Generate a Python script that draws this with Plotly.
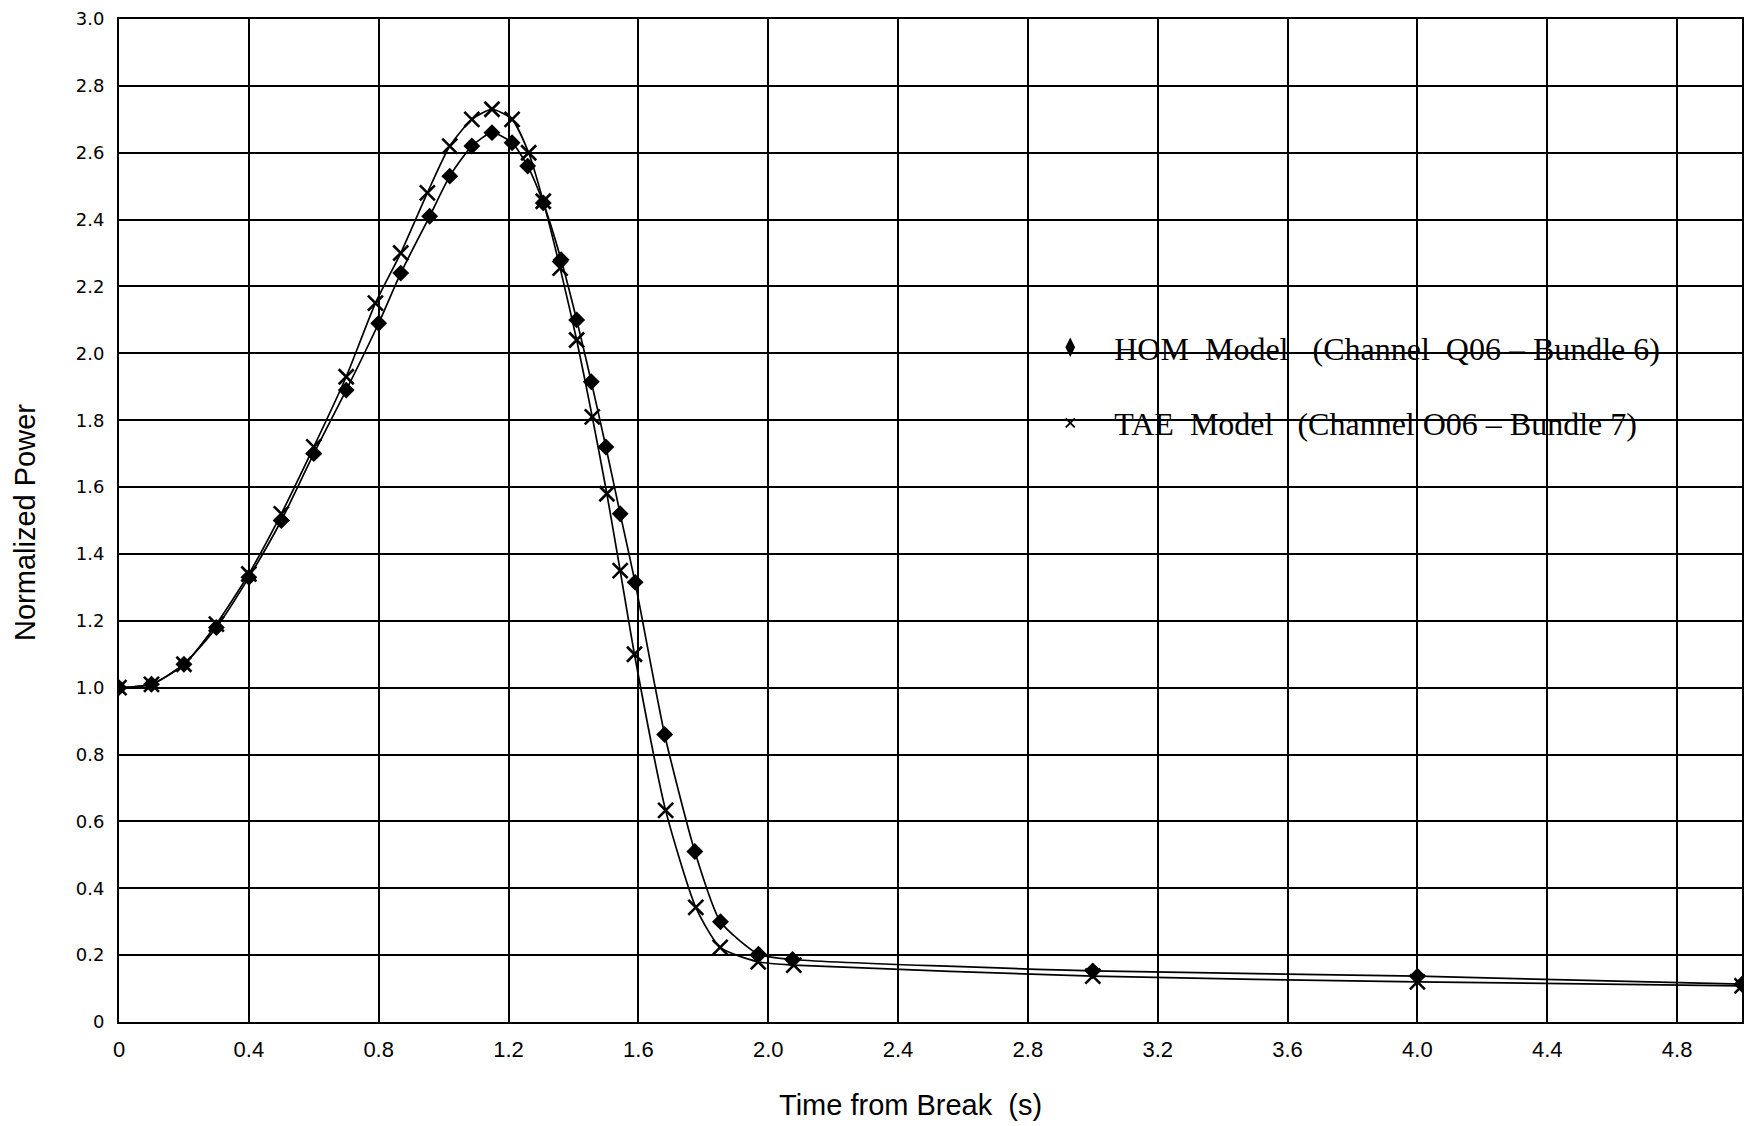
import plotly.graph_objects as go

# HOM Model (Channel Q06 - Bundle 6)
hom_t = [0.0, 0.1, 0.2, 0.3, 0.4, 0.5, 0.6, 0.7, 0.8, 0.868, 0.957, 1.019, 1.087, 1.149,
         1.211, 1.259, 1.307, 1.362, 1.41, 1.455, 1.50, 1.544, 1.59, 1.681, 1.774, 1.853,
         1.97, 2.075, 3.0, 4.0, 5.0]
hom_p = [1.00, 1.01, 1.07, 1.18, 1.33, 1.50, 1.70, 1.89, 2.09, 2.24, 2.41, 2.53, 2.62, 2.66,
         2.63, 2.56, 2.45, 2.28, 2.10, 1.915, 1.72, 1.52, 1.315, 0.86, 0.51, 0.30,
         0.203, 0.187, 0.153, 0.137, 0.113]

# TAE Model (Channel O06 - Bundle 7)
tae_t = [0.0, 0.1, 0.2, 0.3, 0.4, 0.5, 0.6, 0.7, 0.79, 0.868, 0.95, 1.019, 1.087, 1.149,
         1.211, 1.262, 1.307, 1.359, 1.41, 1.458, 1.503, 1.544, 1.588, 1.684, 1.777, 1.852,
         1.969, 2.079, 3.0, 4.0, 5.0]
tae_p = [1.00, 1.01, 1.07, 1.19, 1.34, 1.52, 1.72, 1.93, 2.15, 2.30, 2.48, 2.62, 2.70, 2.73,
         2.70, 2.60, 2.455, 2.255, 2.04, 1.81, 1.58, 1.35, 1.10, 0.633, 0.343, 0.223,
         0.18, 0.17, 0.137, 0.12, 0.108]

x_tickvals = [0, 0.4, 0.8, 1.2, 1.6, 2.0, 2.4, 2.8, 3.2, 3.6, 4.0, 4.4, 4.8]
x_ticktext = ["0", "0.4", "0.8", "1.2", "1.6", "2.0", "2.4", "2.8", "3.2", "3.6", "4.0", "4.4", "4.8"]
y_tickvals = [0, 0.2, 0.4, 0.6, 0.8, 1.0, 1.2, 1.4, 1.6, 1.8, 2.0, 2.2, 2.4, 2.6, 2.8, 3.0]
y_ticktext = ["0", "0.2", "0.4", "0.6", "0.8", "1.0", "1.2", "1.4", "1.6", "1.8", "2.0",
              "2.2", "2.4", "2.6", "2.8", "3.0"]

hom_name = "HOM  Model   (Channel  Q06 – Bundle 6)"
tae_name = "TAE  Model   (Channel O06 – Bundle 7)"
x_title = "Time from Break  (s)"
y_title = "Normalized Power"

fig = go.Figure()
fig.add_trace(go.Scatter(
    x=hom_t, y=hom_p, mode="lines+markers", showlegend=False,
    line=dict(color="black", width=1.7, shape="spline", smoothing=0.6),
    marker=dict(symbol="diamond", size=13, color="black")))
fig.add_trace(go.Scatter(
    x=tae_t, y=tae_p, mode="lines+markers", showlegend=False,
    line=dict(color="black", width=1.7, shape="spline", smoothing=0.6),
    marker=dict(symbol="x-thin", size=15, color="black", line=dict(color="black", width=2.6))))
# legend entries (marker only)
fig.add_trace(go.Scatter(
    x=[None], y=[None], mode="markers", name=hom_name, legendgroup="a",
    marker=dict(symbol="diamond-tall", size=14, color="black")))
fig.add_trace(go.Scatter(
    x=[None], y=[None], mode="markers", name=tae_name, legendgroup="b",
    marker=dict(symbol="x-thin", size=9, color="black", line=dict(color="black", width=1.8))))

fig.update_layout(
    width=1745, height=1126,
    margin=dict(l=119, r=3, t=19, b=104),
    paper_bgcolor="white", plot_bgcolor="white",
    legend=dict(x=0.559, y=0.70, xanchor="left", yanchor="top",
                bgcolor="rgba(0,0,0,0)", traceorder="grouped", tracegroupgap=31,
                font=dict(family="Liberation Serif", size=32, color="black"),
                itemwidth=78),
    xaxis=dict(range=[0, 5.0], tickvals=x_tickvals, ticktext=x_ticktext,
               showgrid=True, gridcolor="black", gridwidth=1.6,
               showline=True, linecolor="black", linewidth=1.8, mirror=True,
               zeroline=False, ticks="", automargin=False, ticklabelstandoff=7,
               tickfont=dict(family="Liberation Sans", size=22, color="black")),
    yaxis=dict(range=[0, 3.0], tickvals=y_tickvals, ticktext=y_ticktext,
               showgrid=True, gridcolor="black", gridwidth=1.6,
               showline=True, linecolor="black", linewidth=1.8, mirror=True,
               zeroline=False, ticks="", automargin=False, ticklabelstandoff=9,
               tickfont=dict(family="DejaVu Sans", size=18, color="black")),
    annotations=[
        dict(text=x_title, xref="paper", yref="paper", x=(910 - 119) / 1623, y=-(1105 - 1022) / 1003,
             xanchor="center", yanchor="middle", showarrow=False,
             font=dict(family="Liberation Sans", size=29, color="black")),
        dict(text=y_title, xref="paper", yref="paper", x=-(119 - 25) / 1623, y=(1022 - 523) / 1003,
             xanchor="center", yanchor="middle", showarrow=False, textangle=-90,
             font=dict(family="Liberation Sans", size=29, color="black")),
    ],
)

fig.write_html("out.html", config={"displayModeBar": False},
               post_script="document.body.style.margin='0';")
